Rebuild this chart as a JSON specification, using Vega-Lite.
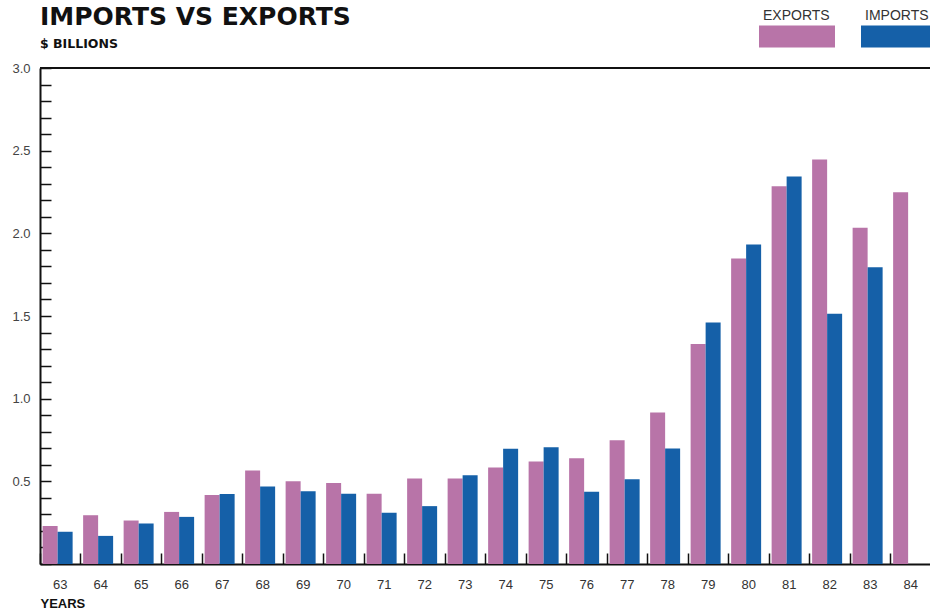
{
  "$schema": "https://vega.github.io/schema/vega-lite/v6.json",
  "autosize": {"type": "none"},
  "padding": {"left": 40, "top": 68, "right": 0, "bottom": 48},
  "width": 891,
  "height": 496,
  "background": "white",
  "title": {
    "text": "IMPORTS VS EXPORTS",
    "subtitle": "$ BILLIONS",
    "anchor": "start",
    "frame": "group",
    "font": "DejaVu Sans",
    "fontSize": 25,
    "fontWeight": "bold",
    "color": "#111111",
    "subtitleFont": "DejaVu Sans",
    "subtitleFontSize": 12.5,
    "subtitleFontWeight": "bold",
    "subtitleColor": "#111111",
    "subtitlePadding": 8,
    "offset": -52
  },
  "data": {
    "values": [
      {"year": "63", "type": "EXPORTS", "value": 0.23},
      {"year": "63", "type": "IMPORTS", "value": 0.195},
      {"year": "64", "type": "EXPORTS", "value": 0.295},
      {"year": "64", "type": "IMPORTS", "value": 0.17},
      {"year": "65", "type": "EXPORTS", "value": 0.263},
      {"year": "65", "type": "IMPORTS", "value": 0.245},
      {"year": "66", "type": "EXPORTS", "value": 0.315},
      {"year": "66", "type": "IMPORTS", "value": 0.285},
      {"year": "67", "type": "EXPORTS", "value": 0.417},
      {"year": "67", "type": "IMPORTS", "value": 0.424},
      {"year": "68", "type": "EXPORTS", "value": 0.566},
      {"year": "68", "type": "IMPORTS", "value": 0.468},
      {"year": "69", "type": "EXPORTS", "value": 0.5},
      {"year": "69", "type": "IMPORTS", "value": 0.44},
      {"year": "70", "type": "EXPORTS", "value": 0.49},
      {"year": "70", "type": "IMPORTS", "value": 0.425},
      {"year": "71", "type": "EXPORTS", "value": 0.425},
      {"year": "71", "type": "IMPORTS", "value": 0.31},
      {"year": "72", "type": "EXPORTS", "value": 0.517},
      {"year": "72", "type": "IMPORTS", "value": 0.35},
      {"year": "73", "type": "EXPORTS", "value": 0.517},
      {"year": "73", "type": "IMPORTS", "value": 0.537},
      {"year": "74", "type": "EXPORTS", "value": 0.583},
      {"year": "74", "type": "IMPORTS", "value": 0.697},
      {"year": "75", "type": "EXPORTS", "value": 0.62},
      {"year": "75", "type": "IMPORTS", "value": 0.706},
      {"year": "76", "type": "EXPORTS", "value": 0.64},
      {"year": "76", "type": "IMPORTS", "value": 0.437},
      {"year": "77", "type": "EXPORTS", "value": 0.749},
      {"year": "77", "type": "IMPORTS", "value": 0.512},
      {"year": "78", "type": "EXPORTS", "value": 0.917},
      {"year": "78", "type": "IMPORTS", "value": 0.699},
      {"year": "79", "type": "EXPORTS", "value": 1.331},
      {"year": "79", "type": "IMPORTS", "value": 1.46},
      {"year": "80", "type": "EXPORTS", "value": 1.848},
      {"year": "80", "type": "IMPORTS", "value": 1.932},
      {"year": "81", "type": "EXPORTS", "value": 2.285},
      {"year": "81", "type": "IMPORTS", "value": 2.343},
      {"year": "82", "type": "EXPORTS", "value": 2.446},
      {"year": "82", "type": "IMPORTS", "value": 1.514},
      {"year": "83", "type": "EXPORTS", "value": 2.034},
      {"year": "83", "type": "IMPORTS", "value": 1.795},
      {"year": "84", "type": "EXPORTS", "value": 2.249}
    ]
  },
  "layer": [
    {
      "mark": {"type": "bar"},
      "encoding": {
        "x": {
          "field": "year",
          "type": "nominal",
          "sort": null,
          "scale": {"paddingInner": 0, "paddingOuter": 0},
          "axis": {
            "bandPosition": 0,
            "labelAngle": 0,
            "labelFont": "Liberation Sans",
            "labelFontSize": 13,
            "labelColor": "#333333",
            "labelPadding": 25,
            "tickSize": -11,
            "tickColor": "#111111",
            "tickWidth": 1.5,
            "domainColor": "#111111",
            "domainWidth": 2,
            "title": "YEARS",
            "titleAnchor": "start",
            "titleAlign": "left",
            "titleFont": "Liberation Sans",
            "titleFontSize": 13,
            "titleFontWeight": "bold",
            "titleColor": "#111111",
            "titlePadding": 6
          }
        },
        "xOffset": {
          "field": "type",
          "type": "nominal",
          "scale": {"domain": ["EXPORTS", "IMPORTS"], "paddingInner": 0, "paddingOuter": 0.35, "align": 0.25}
        },
        "y": {
          "field": "value",
          "type": "quantitative",
          "scale": {"domain": [0, 3], "nice": false},
          "axis": {
            "values": [0, 0.1, 0.2, 0.3, 0.4, 0.5, 0.6, 0.7, 0.8, 0.9, 1.0, 1.1, 1.2, 1.3, 1.4, 1.5, 1.6, 1.7, 1.8, 1.9, 2.0, 2.1, 2.2, 2.3, 2.4, 2.5, 2.6, 2.7, 2.8, 2.9, 3.0],
            "tickCount": 40,
            "labelOverlap": false,
            "labelExpr": "datum.value > 0.01 && abs(datum.value * 2 - round(datum.value * 2)) < 0.01 ? format(datum.value, '.1f') : ''",
            "labelFont": "Liberation Sans",
            "labelFontSize": 13,
            "labelColor": "#444444",
            "labelPadding": 21,
            "tickSize": -11,
            "tickColor": "#111111",
            "tickWidth": 1.5,
            "domainColor": "#111111",
            "domainWidth": 2,
            "title": null,
            "grid": false
          }
        },
        "color": {
          "field": "type",
          "type": "nominal",
          "scale": {"domain": ["EXPORTS", "IMPORTS"], "range": ["#B874A8", "#1560A8"]},
          "legend": {
            "title": null,
            "orient": "none",
            "legendX": 719,
            "legendY": -70,
            "direction": "horizontal",
            "symbolType": "M-1,-0.29H1V0.29H-1Z",
            "symbolSize": 5776,
            "symbolStrokeWidth": 0,
            "symbolOpacity": 1,
            "labelFont": "Liberation Sans",
            "labelFontSize": 14,
            "labelColor": "#333333",
            "labelOffset": -72,
            "columnPadding": 26,
            "encode": {"labels": {"update": {"dy": {"value": -20}}}}
          }
        }
      }
    },
    {
      "mark": {"type": "rule", "color": "#111111", "strokeWidth": 2},
      "encoding": {"y": {"datum": 3}}
    }
  ],
  "config": {
    "view": {"stroke": null},
    "axis": {"grid": false}
  }
}
